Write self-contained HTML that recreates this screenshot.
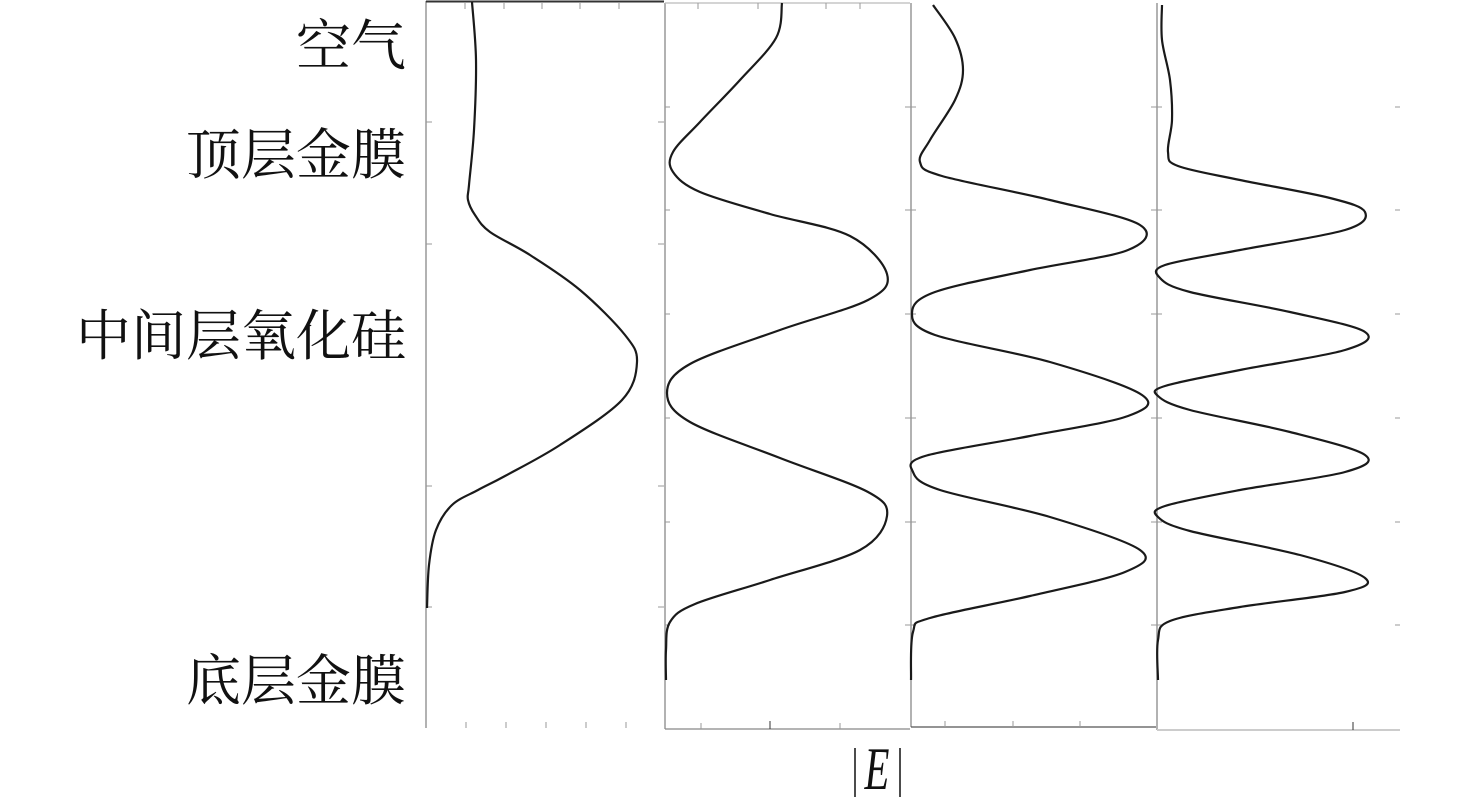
<!DOCTYPE html>
<html><head><meta charset="utf-8">
<style>
html,body{margin:0;padding:0;background:#fff;}
svg{display:block;}
</style></head>
<body>
<svg id="s" width="1476" height="802" viewBox="0 0 1476 802" xmlns="http://www.w3.org/2000/svg">
<g font-family="'Liberation Serif','Noto Serif CJK SC',serif" font-size="55" fill="#111" text-anchor="end">
<text x="406" y="65">空气</text>
<text x="406" y="174">顶层金膜</text>
<text x="406" y="355">中间层氧化硅</text>
<text x="406" y="700">底层金膜</text>
</g>
<text x="0" y="0" font-family="'Liberation Serif',serif" font-style="italic" font-size="48" text-anchor="middle" fill="#111" transform="translate(877,789) scale(0.85,1.25)">E</text>
<line x1="855" y1="748" x2="855" y2="797" stroke="#111" stroke-width="1.5"/>
<line x1="900" y1="748" x2="900" y2="797" stroke="#111" stroke-width="1.5"/>
<g stroke="#888" stroke-width="1.3" fill="none">
<line x1="426" y1="1" x2="426" y2="728"/>
<line x1="426" y1="1.5" x2="664" y2="1.5" stroke="#333" stroke-width="2"/>
<line x1="665" y1="3" x2="665" y2="729"/>
<line x1="665" y1="3" x2="910" y2="3" stroke="#bbb"/>
<line x1="665" y1="729" x2="910" y2="729"/>
<line x1="911" y1="3" x2="911" y2="727"/>
<line x1="911" y1="727" x2="1156" y2="727" stroke="#555"/>
<line x1="1157" y1="3" x2="1157" y2="730"/>
<line x1="1157" y1="730" x2="1400" y2="730" stroke="#ccc" stroke-width="2"/>
</g>
<g stroke="#999" stroke-width="1">
<line x1="466" y1="722" x2="466" y2="728"/><line x1="506" y1="722" x2="506" y2="728"/><line x1="546" y1="722" x2="546" y2="728"/><line x1="586" y1="722" x2="586" y2="728"/><line x1="626" y1="722" x2="626" y2="728"/>
<line x1="701" y1="723" x2="701" y2="729"/><line x1="770" y1="721" x2="770" y2="729" stroke="#333"/><line x1="840" y1="723" x2="840" y2="729"/>
<line x1="945" y1="721" x2="945" y2="727"/><line x1="1013" y1="721" x2="1013" y2="727"/><line x1="1080" y1="721" x2="1080" y2="727"/>
<line x1="1353" y1="722" x2="1353" y2="730" stroke="#333"/>
<line x1="465" y1="3" x2="465" y2="9"/><line x1="504" y1="3" x2="504" y2="9"/><line x1="542" y1="3" x2="542" y2="9"/><line x1="580" y1="3" x2="580" y2="9"/><line x1="619" y1="3" x2="619" y2="9"/>
<line x1="698" y1="3" x2="698" y2="9"/><line x1="758" y1="3" x2="758" y2="9"/><line x1="826" y1="3" x2="826" y2="9"/><line x1="860" y1="3" x2="860" y2="9"/>
<line x1="426" y1="122" x2="432" y2="122"/><line x1="426" y1="244" x2="432" y2="244"/><line x1="426" y1="486" x2="432" y2="486"/><line x1="426" y1="607" x2="432" y2="607"/>
<line x1="658" y1="122" x2="664" y2="122"/><line x1="658" y1="244" x2="664" y2="244"/><line x1="658" y1="486" x2="664" y2="486"/><line x1="658" y1="607" x2="664" y2="607"/>
<line x1="665" y1="107" x2="670" y2="107"/><line x1="665" y1="210" x2="670" y2="210"/><line x1="665" y1="314" x2="670" y2="314"/><line x1="665" y1="418" x2="670" y2="418"/><line x1="665" y1="522" x2="670" y2="522"/><line x1="665" y1="625" x2="670" y2="625"/>
<line x1="905" y1="107" x2="911" y2="107"/><line x1="905" y1="210" x2="911" y2="210"/><line x1="905" y1="314" x2="911" y2="314"/><line x1="905" y1="418" x2="911" y2="418"/><line x1="905" y1="522" x2="911" y2="522"/><line x1="905" y1="625" x2="911" y2="625"/>
<line x1="911" y1="107" x2="916" y2="107"/><line x1="911" y1="210" x2="916" y2="210"/><line x1="911" y1="314" x2="916" y2="314"/><line x1="911" y1="418" x2="916" y2="418"/><line x1="911" y1="522" x2="916" y2="522"/><line x1="911" y1="625" x2="916" y2="625"/>
<line x1="1151" y1="107" x2="1157" y2="107"/><line x1="1151" y1="210" x2="1157" y2="210"/><line x1="1151" y1="314" x2="1157" y2="314"/><line x1="1151" y1="418" x2="1157" y2="418"/><line x1="1151" y1="522" x2="1157" y2="522"/><line x1="1151" y1="625" x2="1157" y2="625"/>
<line x1="1157" y1="107" x2="1162" y2="107"/><line x1="1157" y1="210" x2="1162" y2="210"/><line x1="1157" y1="314" x2="1162" y2="314"/><line x1="1157" y1="418" x2="1162" y2="418"/><line x1="1157" y1="522" x2="1162" y2="522"/><line x1="1157" y1="625" x2="1162" y2="625"/>
<line x1="1395" y1="107" x2="1400" y2="107"/><line x1="1395" y1="210" x2="1400" y2="210"/><line x1="1395" y1="314" x2="1400" y2="314"/><line x1="1395" y1="418" x2="1400" y2="418"/><line x1="1395" y1="522" x2="1400" y2="522"/><line x1="1395" y1="625" x2="1400" y2="625"/>
</g>
<g id="curves" stroke="#1a1a1a" stroke-width="2.2" fill="none"></g>
</svg>
<script>
var C=[
[[472,2],[476,60],[474,130],[469,185],[468,200],[475,215],[490,232],[530,255],[580,290],[625,335],[637,362],[622,400],[560,445],[505,476],[478,490],[452,505],[436,530],[429,565],[427,608]],
[[782,3],[776,38],[740,80],[700,122],[673,152],[673,172],[700,192],[770,214],[850,236],[887,274],[868,300],[780,330],[690,364],[667,393],[690,422],[780,458],[868,492],[887,516],[860,550],[770,580],[695,604],[670,622],[666,650],[666,680]],
[[933,5],[955,38],[963,70],[955,100],[930,140],[920,162],[942,176],[1050,200],[1140,225],[1128,250],[1030,270],[935,292],[912,313],[935,335],[1050,362],[1142,395],[1128,416],[1030,436],[925,456],[913,472],[940,490],[1050,517],[1140,550],[1125,572],[1030,596],[930,618],[913,632],[911,680]],
[[1162,5],[1162,40],[1170,80],[1172,120],[1168,152],[1178,166],[1240,180],[1330,198],[1365,212],[1345,230],[1240,250],[1165,265],[1160,278],[1190,292],[1290,312],[1365,332],[1345,350],[1240,370],[1165,386],[1158,396],[1190,410],[1290,432],[1365,455],[1345,472],[1240,490],[1165,506],[1158,517],[1190,531],[1300,555],[1365,578],[1345,592],[1240,607],[1170,621],[1158,640],[1158,680]]
];
var g=document.getElementById('curves');
C.forEach(function(p){
 var d='M'+p[0][0]+','+p[0][1];
 for(var i=0;i<p.length-1;i++){
  var p0=p[i-1]||p[i],p1=p[i],p2=p[i+1],p3=p[i+2]||p2;
  var c1=[p1[0]+(p2[0]-p0[0])/6,p1[1]+(p2[1]-p0[1])/6];
  var c2=[p2[0]-(p3[0]-p1[0])/6,p2[1]-(p3[1]-p1[1])/6];
  d+=' C'+c1+' '+c2+' '+p2;
 }
 var e=document.createElementNS('http://www.w3.org/2000/svg','path');
 e.setAttribute('d',d);g.appendChild(e);
});
</script>
</body></html>
